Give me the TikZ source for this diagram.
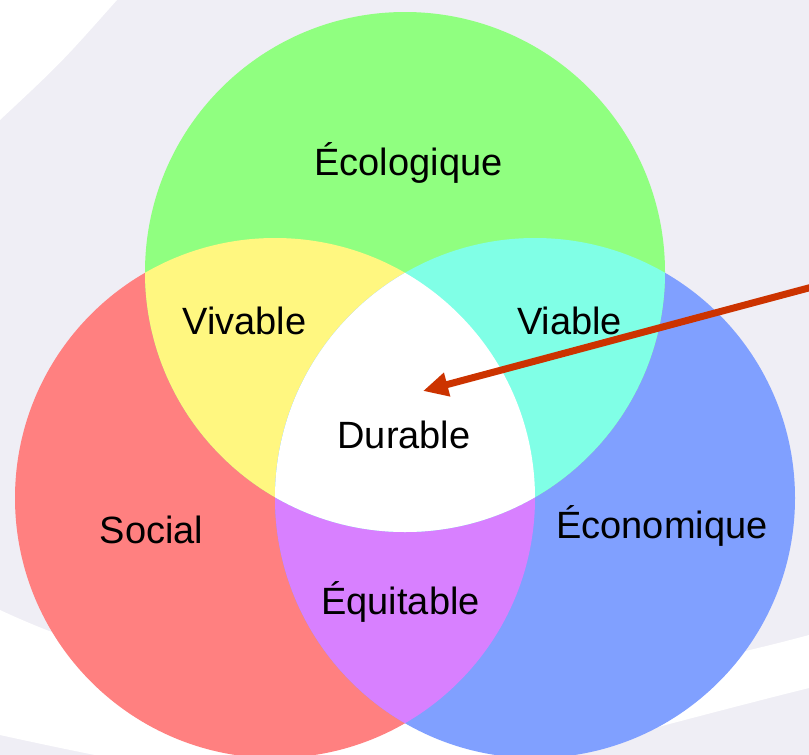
\documentclass[tikz,border=0pt]{standalone}
\usepackage{fontspec}
\setmainfont{Liberation Sans}
\usetikzlibrary{arrows.meta}
\definecolor{bglav}{HTML}{EFEEF5}
\definecolor{ecogreen}{HTML}{90FF80}
\definecolor{socred}{HTML}{FF8080}
\definecolor{ecoblue}{HTML}{80A0FF}
\definecolor{vivyellow}{HTML}{FFF780}
\definecolor{viacyan}{HTML}{80FFE6}
\definecolor{equpurple}{HTML}{D880FF}
\definecolor{arrowred}{HTML}{CC3300}
\begin{document}
\begin{tikzpicture}[x=1pt,y=-1pt,
  lbl/.style={anchor=base,inner sep=0pt,text=black,font=\fontsize{38}{40}\selectfont},
  disc/.style={radius=260pt}]
\useasboundingbox (0,0) rectangle (809,755);
% background
\begin{scope}
\clip (0,0) rectangle (809,755);
\fill[bglav] (0,0) rectangle (809,755);
\fill[white] (-5,-5) -- (119,-5) -- (117,0) .. controls (61,63) .. (0,120) -- (-5,125) -- cycle;
\fill[white] (-5,608) -- (0,610) .. controls (250,727) and (550,705) .. (809,635) -- (815,633)
  -- (815,686) -- (809,688) .. controls (409,788) and (400,823) .. (0,735) -- (-5,734) -- cycle;
\end{scope}
% circles
\coordinate (cG) at (405,272);
\coordinate (cR) at (275,498);
\coordinate (cB) at (535,498);
\fill[socred] (cR) circle[disc];
\fill[ecoblue] (cB) circle[disc];
\fill[ecogreen] (cG) circle[disc];
\begin{scope}
\clip (cR) circle[disc];
\fill[vivyellow] (cG) circle[disc];
\fill[equpurple] (cB) circle[disc];
\end{scope}
\begin{scope}
\clip (cB) circle[disc];
\fill[viacyan] (cG) circle[disc];
\end{scope}
\begin{scope}
\clip (cR) circle[disc];
\clip (cB) circle[disc];
\fill[white] (cG) circle[disc];
\end{scope}
% labels
\node[lbl] (eco) at (408.5,175) {Écologique};
\node[lbl] (viv) at (244.5,334) {Vivable};
\node[lbl] (via) at (569.5,334) {Viable};
\node[lbl] (dur) at (404,448) {Durable};
\node[lbl] (soc) at (151.5,543) {Social};
\node[lbl] (econ) at (662,538) {Économique};
\node[lbl] (equ) at (400.5,614) {Équitable};
% arrow
\coordinate (arrowstart) at (816,286);
\coordinate (arrowtip) at (423,391);
\draw[arrowred, line width=7pt, -{Triangle[length=25pt,width=23pt]}] (arrowstart) -- (arrowtip);
\end{tikzpicture}
\end{document}
